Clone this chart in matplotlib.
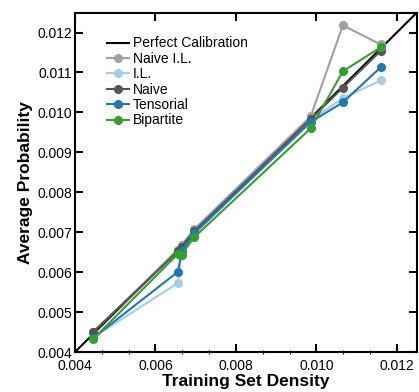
import matplotlib
matplotlib.use("Agg")
import matplotlib.pyplot as plt
from matplotlib.ticker import MultipleLocator, AutoMinorLocator

plt.rcParams['font.family'] = ['Liberation Sans', 'DejaVu Sans']

density = [0.00445, 0.00656, 0.00665, 0.00696, 0.00986, 0.01066, 0.01160]

naive_il = [0.00450, 0.00655, 0.00668, 0.00707, 0.00990, 0.01218, 0.01170]
il = [0.00436, 0.00573, 0.00648, 0.00695, 0.00980, 0.01036, 0.01080]
naive = [0.00450, 0.00652, 0.00664, 0.00702, 0.00983, 0.01062, 0.01154]
tensorial = [0.00435, 0.00601, 0.00653, 0.00697, 0.00976, 0.01025, 0.01113]
bipartite = [0.00432, 0.00646, 0.00644, 0.00687, 0.00960, 0.01103, 0.01163]

series = [
    ("Naive I.L.", naive_il, "#a0a0a0"),
    ("I.L.", il, "#a6cee3"),
    ("Naive", naive, "#555555"),
    ("Tensorial", tensorial, "#1f78b4"),
    ("Bipartite", bipartite, "#33a02c"),
]

lim = (0.004, 0.0125)

fig = plt.figure(figsize=(4.19, 3.92), dpi=100)
ax = fig.add_axes([0.179, 0.102, 0.816, 0.866])

ax.plot(lim, lim, color="black", lw=1.5, label="Perfect Calibration", zorder=1)
for name, vals, col in series:
    ax.plot(density, vals, color=col, lw=1.5, marker="o", markersize=5.5,
            label=name, zorder=2)

ax.set_xlim(lim)
ax.set_ylim(lim)
ax.xaxis.set_major_locator(MultipleLocator(0.002))
ax.yaxis.set_major_locator(MultipleLocator(0.001))
ax.xaxis.set_minor_locator(AutoMinorLocator(3))
ax.xaxis.set_major_formatter(plt.FormatStrFormatter('%.3f'))
ax.yaxis.set_major_formatter(plt.FormatStrFormatter('%.3f'))
ax.tick_params(which='major', direction='in', top=True, right=True,
               length=6, width=1.5, labelsize=10, pad=2, colors='black')
ax.tick_params(axis='x', which='major', pad=5)
ax.tick_params(axis='x', which='minor', direction='inout', length=3, width=0.8, top=False)
for s in ax.spines.values():
    s.set_linewidth(1.5)

ax.set_xlabel("Training Set Density", fontsize=12.5, fontweight='bold', labelpad=1)
ax.set_ylabel("Average Probability", fontsize=12.5, fontweight='bold', labelpad=3)

leg = ax.legend(loc='upper left', bbox_to_anchor=(0.076, 0.946), frameon=False,
                fontsize=10, handlelength=1.6, handletextpad=0.3,
                labelspacing=0.1, borderaxespad=0)

fig.savefig("out.png", dpi=100)
